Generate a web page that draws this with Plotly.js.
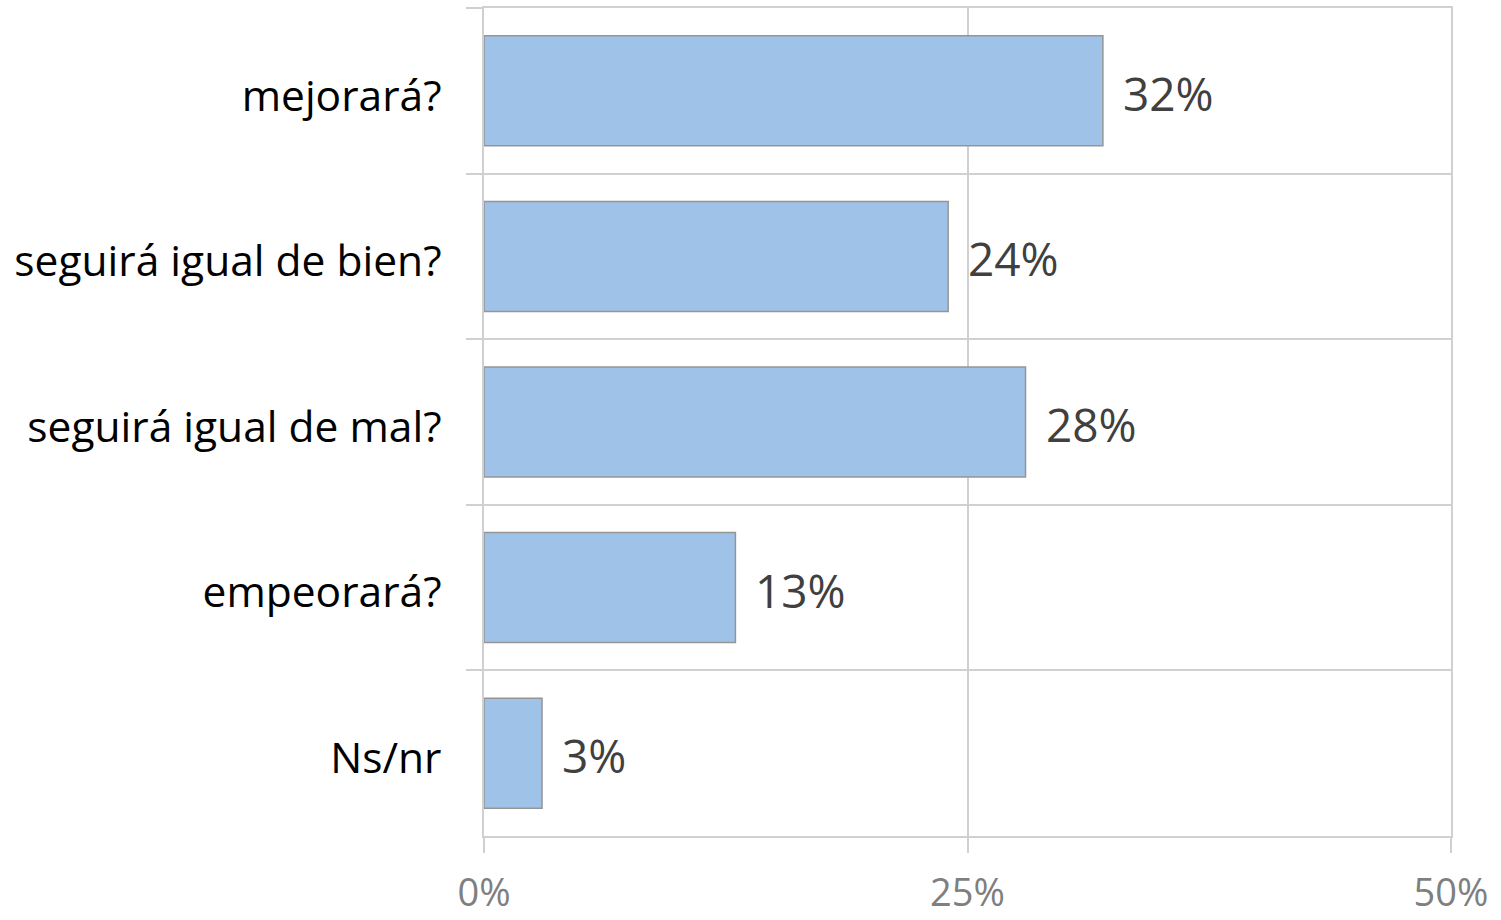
<!DOCTYPE html>
<html>
<head>
<meta charset="utf-8">
<script src="https://cdn.plot.ly/plotly-3.0.1.min.js"></script>
<style>html,body{margin:0;padding:0;background:#fff;}#chart{width:1501px;height:920px;}</style>
</head>
<body>
<div id="chart"></div>
<script>
const categories = ["mejorará?", "seguirá igual de bien?", "seguirá igual de mal?", "empeorará?", "Ns/nr"];
const values = [0.32, 0.24, 0.28, 0.13, 0.03];
const xTickVals = [0, 0.25, 0.5];
const xTickText = ["0%", "25%", "50%"];

const gridColor = "#d0d0d0";
const fontFam = "'Open Sans', sans-serif";

const trace = {
  type: "bar",
  orientation: "h",
  x: values,
  y: categories,
  width: 0.664,
  marker: {color: "#9fc2e9", line: {color: "#959595", width: 1.5}},
  hoverinfo: "none"
};

const annotations = values.map((v, i) => ({
  x: v, y: categories[i], xref: "x", yref: "y",
  text: Math.round(v * 100) + "%",
  showarrow: false, xanchor: "left", yanchor: "middle", xshift: 18, yshift: -2,
  font: {family: fontFam, size: 46, color: "#404040"}
}));

const layout = {
  width: 1501, height: 920,
  margin: {l: 484, r: 50, t: 8, b: 84},
  paper_bgcolor: "#fff", plot_bgcolor: "#fff",
  showlegend: false,
  xaxis: {
    range: [0, 0.5],
    tickvals: xTickVals, ticktext: xTickText,
    showgrid: true, gridcolor: gridColor, gridwidth: 2,
    zeroline: false, showline: true, mirror: true, linecolor: gridColor, linewidth: 2,
    ticks: "outside", ticklen: 15, tickwidth: 2, tickcolor: gridColor,
    ticklabelstandoff: 7,
    tickfont: {family: fontFam, size: 38, color: "#7f7f7f"},
    fixedrange: true
  },
  yaxis: {
    type: "category",
    autorange: "reversed",
    tickson: "boundaries",
    showgrid: true, gridcolor: gridColor, gridwidth: 2,
    zeroline: false, showline: true, mirror: true, linecolor: gridColor, linewidth: 2,
    ticks: "outside", ticklen: 16, tickwidth: 2, tickcolor: gridColor,
    ticklabelstandoff: 32,
    ticklabelshift: -5,
    tickfont: {family: fontFam, size: 42.5, color: "#000"},
    fixedrange: true
  },
  annotations: annotations
};

Plotly.newPlot("chart", [trace], layout, {displayModeBar: false, staticPlot: true});
</script>
</body>
</html>
